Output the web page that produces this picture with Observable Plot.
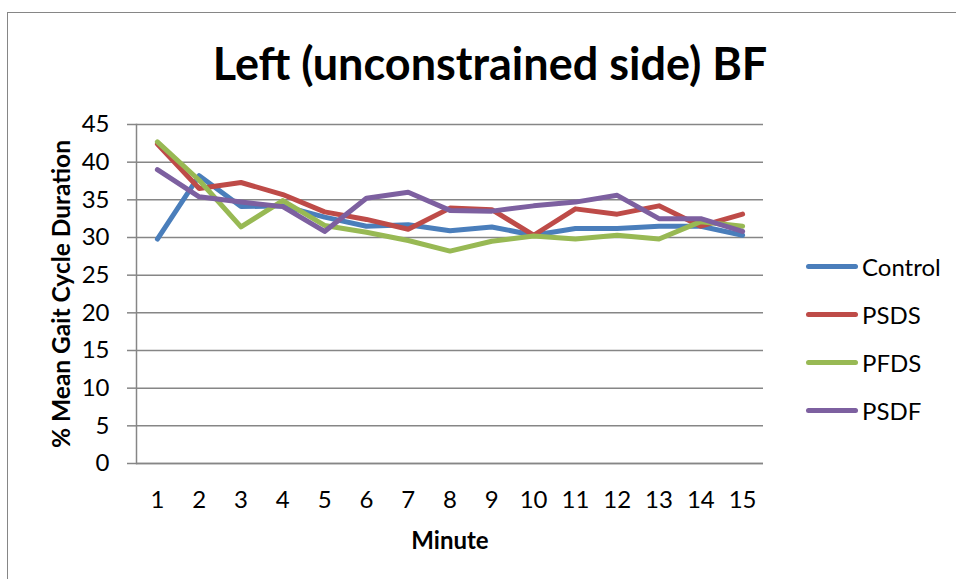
<!DOCTYPE html>
<html>
<head>
<meta charset="utf-8">
<script src="https://cdn.jsdelivr.net/npm/d3@7"></script>
<script src="https://cdn.jsdelivr.net/npm/@observablehq/plot@0.6"></script>
<style>
  html, body { margin: 0; padding: 0; background: #fff; }
  #wrap { position: relative; width: 956px; height: 579px; overflow: hidden; font-family: Lato, "Open Sans", sans-serif; }
  #border { position: absolute; left: 7px; top: 12px; width: 960px; height: 580px; border: 1.5px solid #868686; box-sizing: border-box; }
  #title { position: absolute; left: 140px; width: 700px; top: 35px; text-align: center; font-weight: bold; font-size: 45px; line-height: 56px; color: #000; }
  #chart { position: absolute; left: 0; top: 0; }
  .legend { position: absolute; left: 806px; display: flex; align-items: center; font-size: 24px; color: #000; height: 30px; }
  .legend .sw { width: 52px; height: 5px; border-radius: 3px; margin-right: 4px; }
</style>
</head>
<body>
<div id="wrap">
  <div id="border"></div>
  <div id="chart"></div>
  <div id="title">Left (unconstrained side) BF</div>
  <div id="legend"></div>
</div>
<script>
// Minute-by-minute mean gait cycle duration (%) for each condition
const minutes = [1, 2, 3, 4, 5, 6, 7, 8, 9, 10, 11, 12, 13, 14, 15];
const control = [29.8, 38.2, 34.1, 34.2, 32.7, 31.5, 31.7, 30.9, 31.4, 30.3, 31.2, 31.2, 31.5, 31.5, 30.3];
const psds    = [42.4, 36.5, 37.3, 35.7, 33.4, 32.4, 31.1, 33.9, 33.7, 30.3, 33.8, 33.1, 34.2, 31.5, 33.1];
const pfds    = [42.7, 37.6, 31.4, 34.9, 31.6, 30.7, 29.6, 28.2, 29.5, 30.2, 29.8, 30.3, 29.8, 32.1, 31.5];
const psdf    = [39.0, 35.4, 34.7, 34.1, 30.8, 35.2, 36.0, 33.6, 33.5, 34.2, 34.7, 35.6, 32.5, 32.5, 30.8];

const seriesNames = ["Control", "PSDS", "PFDS", "PSDF"];
const seriesColors = ["#4A7EBB", "#BE4B48", "#98B954", "#7D60A0"];
const yTicks = [0, 5, 10, 15, 20, 25, 30, 35, 40, 45];

const seriesValues = [control, psds, pfds, psdf];
const tables = seriesValues.map((vals, i) =>
  minutes.map((m, j) => ({minute: m, value: vals[j], series: seriesNames[i]}))
);

const font = "Lato, 'Open Sans', sans-serif";

const chart = Plot.plot({
  width: 956,
  height: 579,
  marginLeft: 136,
  marginRight: 193,
  marginTop: 124,
  marginBottom: 116,
  style: {fontFamily: font, fontSize: "24px", color: "#000", background: "transparent"},
  x: {type: "point", domain: minutes, padding: 0.5, round: false},
  y: {domain: [0, 45]},
  color: {domain: seriesNames, range: seriesColors},
  marks: [
    Plot.gridY(yTicks, {stroke: "#868686", strokeOpacity: 1, strokeWidth: 1.5}),
    Plot.ruleY([0], {stroke: "#868686", strokeWidth: 1.5}),
    Plot.frame({anchor: "left", stroke: "#868686", strokeWidth: 1.5}),
    Plot.axisY(yTicks, {tickSize: 9, tickPadding: 18, stroke: "#868686", strokeWidth: 1.5, label: null, fill: "#000", fontSize: 24}),
    Plot.axisX(minutes, {tickSize: 0, tickPadding: 27, label: null, fill: "#000", fontSize: 24}),
    ...tables.map(t => Plot.line(t, {
      x: "minute", y: "value", stroke: "series",
      strokeWidth: 5, strokeLinejoin: "round", strokeLinecap: "round"
    })),
    Plot.text(["% Mean Gait Cycle Duration"], {
      frameAnchor: "left", textAnchor: "middle", dx: -74, rotate: -90, text: d => d,
      fontWeight: "bold", fontSize: 24.5, fill: "#000"
    }),
    Plot.text(["Minute"], {
      frameAnchor: "bottom", dy: 85, text: d => d,
      fontWeight: "bold", fontSize: 24, fill: "#000"
    })
  ]
});
document.getElementById("chart").appendChild(chart);

// Legend on the right
const legend = document.getElementById("legend");
const legendTops = [251, 299, 347, 395];
seriesNames.forEach((name, i) => {
  const item = document.createElement("div");
  item.className = "legend";
  item.style.top = legendTops[i] + "px";
  item.innerHTML = `<span class="sw" style="background:${seriesColors[i]}"></span><span>${name}</span>`;
  legend.appendChild(item);
});
</script>
</body>
</html>
